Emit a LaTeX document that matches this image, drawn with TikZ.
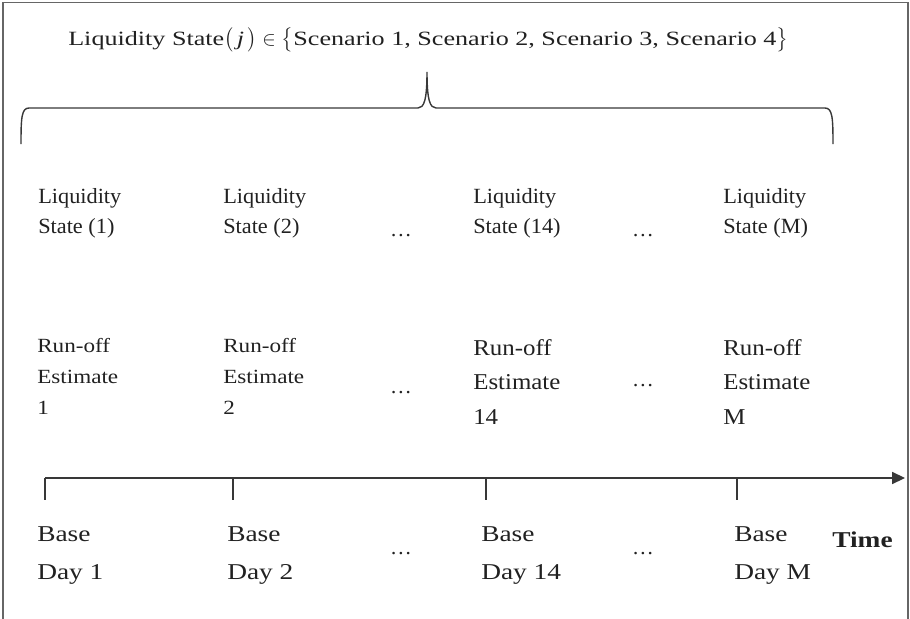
\documentclass[tikz,border=0pt]{standalone}
\usepackage{amsmath}
\usepackage{fontspec}
\setmainfont{Liberation Serif}
\newfontfamily\headfont[FakeStretch=1.29]{Liberation Serif}
\newfontfamily\statefont[FakeStretch=1.03]{Liberation Serif}
\newfontfamily\estfont[FakeStretch=1.15]{Liberation Serif}
\newfontfamily\estbigfont[FakeStretch=1.10]{Liberation Serif}
\newfontfamily\dayfont[FakeStretch=1.21]{Liberation Serif}
\usetikzlibrary{arrows.meta}
\definecolor{inkgray}{rgb}{0.13,0.13,0.13}
\definecolor{linegray}{rgb}{0.22,0.22,0.22}
\definecolor{framegray}{rgb}{0.40,0.40,0.40}
\tikzset{
  heading/.style={
    anchor=base west,
    inner sep=0pt,
    text=inkgray,
    font=\headfont\fontsize{14.4}{16}\selectfont
  },
  statelbl/.style={
    anchor=base west,
    inner sep=0pt,
    align=left,
    text=inkgray,
    font=\statefont\fontsize{15.4}{21.3}\selectfont
  },
  estlbl/.style={
    anchor=base west,
    inner sep=0pt,
    align=left,
    text=inkgray,
    font=\estfont\fontsize{14.3}{21.8}\selectfont
  },
  estbig/.style={
    estlbl,
    font=\estbigfont\fontsize{16.1}{24.2}\selectfont
  },
  daylbl/.style={
    anchor=base west,
    inner sep=0pt,
    align=left,
    text=inkgray,
    font=\dayfont\fontsize{16.1}{26.7}\selectfont
  },
  timelbl/.style={
    anchor=base west,
    inner sep=0pt,
    text=inkgray,
    font=\dayfont\bfseries\fontsize{16.1}{20}\selectfont
  },
  dots/.style={
    anchor=base,
    inner sep=0pt,
    text=inkgray,
    font=\statefont\fontsize{15}{18}\selectfont
  },
  brace/.style={
    line width=1pt,
    linegray
  },
  frame/.style={
    line width=.8pt,
    framegray
  },
  timeline/.style={
    -{Triangle[length=3.2mm,width=3mm]},
    line width=.9pt,
    linegray
  },
  tick/.style={
    line width=.9pt,
    linegray
  }
}
\begin{document}
\begin{tikzpicture}[x=0.025cm,y=-0.025cm]
\useasboundingbox (0,0) rectangle (910,619);
% frame round the figure
\draw[frame] (3,619) -- (3,2.5) -- (908,2.5) -- (908,619);

% scenario set and brace
\node[heading] (title) at (68,45) {Liquidity State$\bigl(\,$\textit{j}$\,\bigr)\in\bigl\{$Scenario 1, Scenario 2, Scenario 3, Scenario 4$\bigr\}$};
\draw[brace] (21,144) .. controls (21,118) and (21.5,108) .. (29,108) -- (418,108)
  .. controls (424,108) and (427,100) .. (427,72)
  .. controls (427,100) and (430,108) .. (436,108) -- (825,108)
  .. controls (832.5,108) and (833,118) .. (833,144);

% liquidity states (anchored at the last line)
\node[statelbl] (s1) at (38,233) {Liquidity\\State (1)};
\node[statelbl] (s2) at (223,233) {Liquidity\\State (2)};
\node[statelbl] (s14) at (473,233) {Liquidity\\State (14)};
\node[statelbl] (sM) at (723,233) {Liquidity\\State (M)};
\node[dots] (sd1) at (401,236) {\ldots};
\node[dots] (sd2) at (643,236) {\ldots};

% run-off estimates
\node[estlbl] (r1) at (37,414) {Run-off\\Estimate\\1};
\node[estlbl] (r2) at (223,414) {Run-off\\Estimate\\2};
\node[estbig] (r14) at (473,424) {Run-off\\Estimate\\14};
\node[estbig] (rM) at (723,424) {Run-off\\Estimate\\M};
\node[dots] (rd1) at (401,393) {\ldots};
\node[dots] (rd2) at (643,386) {\ldots};

% time line
\coordinate (t1) at (45,478);
\coordinate (t2) at (233,478);
\coordinate (t14) at (486,478);
\coordinate (tM) at (737,478);
\coordinate (tend) at (905,478);
\draw[timeline] (t1) -- (tend);
\draw[tick] (t1) -- ++(0,22);
\draw[tick] (t2) -- ++(0,22);
\draw[tick] (t14) -- ++(0,22);
\draw[tick] (tM) -- ++(0,22);

\node[daylbl] (d1) at (37,579) {Base\\Day 1};
\node[daylbl] (d2) at (227,579) {Base\\Day 2};
\node[daylbl] (d14) at (481,579) {Base\\Day 14};
\node[daylbl] (dM) at (734,579) {Base\\Day M};
\node[dots] (dd1) at (401,554) {\ldots};
\node[dots] (dd2) at (643,554) {\ldots};
\node[timelbl] (time) at (832,547) {Time};
\end{tikzpicture}
\end{document}
